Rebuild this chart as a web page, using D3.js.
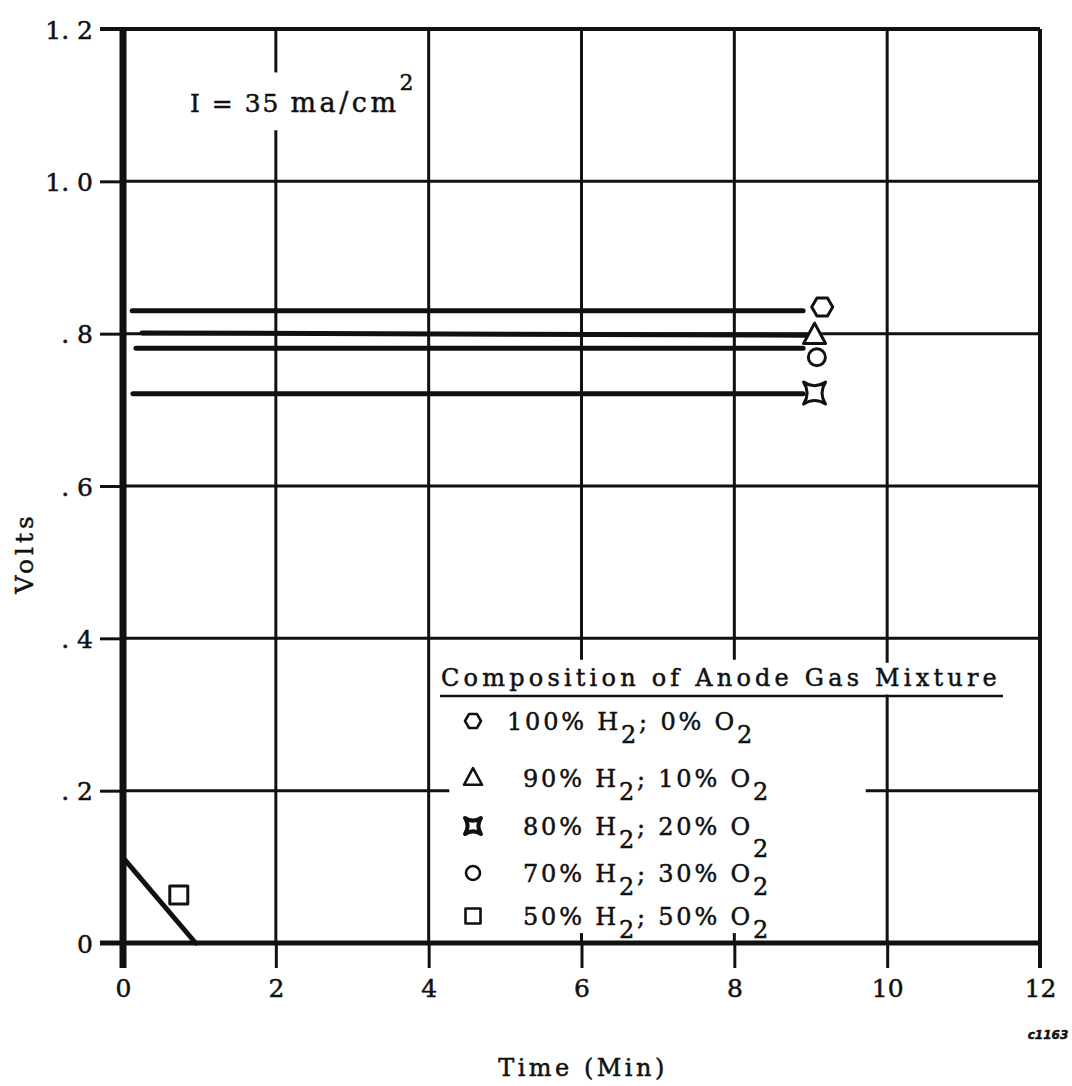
<!DOCTYPE html>
<html>
<head>
<meta charset="utf-8">
<script src="https://cdn.jsdelivr.net/npm/d3@7"></script>
<style>
  body { margin: 0; background: #fff; }
  text { font-family: "DejaVu Serif", serif; fill: #111; stroke: #111; stroke-width: 0.5px; }
</style>
</head>
<body>
<div id="chart"></div>
<script>
// Donnees
const xTicks = [0, 2, 4, 6, 8, 10, 12];
const xTickLabels = ["0", "2", "4", "6", "8", "10", "12"];
const yTicks = [0, 0.2, 0.4, 0.6, 0.8, 1.0, 1.2];
const yTickLabels = ["0", ". 2", ". 4", ". 6", ". 8", "1. 0", "1. 2"];

const h2Pct = ["100%", "90%", "80%", "70%", "50%"];
const o2Pct = ["0%", "10%", "20%", "30%", "50%"];
const symbols = ["hexagon", "triangle", "star", "circle", "square"];

const lineStartTime = [0.12, 0.25, 0.13, 0.17, 0];
const lineEndTime = [8.9, 8.95, 8.9, 8.9, 0.95];
const lineStartVolts = [0.83, 0.801, 0.721, 0.781, 0.112];
const lineEndVolts = [0.83, 0.798, 0.721, 0.781, 0];
const markerTime = [9.15, 9.05, 9.05, 9.08, 0.73];
const markerVolts = [0.835, 0.798, 0.722, 0.769, 0.063];

const width = 1072;
const height = 1086;

const x = d3.scaleLinear().domain([0, 12]).range([123, 1040]);
const y = d3.scaleLinear().domain([0, 1.2]).range([943, 29]);

const svg = d3.select("#chart").append("svg")
  .attr("width", width)
  .attr("height", height);

// formes des symboles
function symbolPath(type, s) {
  if (type === "hexagon") {
    const p = d3.range(6).map(i => [s * Math.cos(i * Math.PI / 3), s * Math.sin(i * Math.PI / 3)]);
    return "M" + p.join("L") + "Z";
  }
  if (type === "triangle") {
    return `M0,${-s * 1.1}L${s},${s * 0.75}L${-s},${s * 0.75}Z`;
  }
  if (type === "star") {
    const c = s * 0.35;
    return `M${-s},${-s}Q0,${-c} ${s},${-s}Q${c},0 ${s},${s}Q0,${c} ${-s},${s}Q${-c},0 ${-s},${-s}Z`;
  }
  if (type === "square") {
    return `M${-s},${-s}H${s}V${s}H${-s}Z`;
  }
  return d3.arc()({ innerRadius: 0, outerRadius: s, startAngle: 0, endAngle: 2 * Math.PI });
}

// grille avec les trous laisses pour le texte
const gapsX = { 2: [[1.067, 1.143]], 6: [[0.013, 0.372]], 8: [[0.013, 0.372]], 10: [[0.326, 0.368]] };
const gapsY = { 0.2: [[4.27, 9.72]] };

function pieces(lo, hi, gaps) {
  const out = [];
  let start = lo;
  (gaps || []).forEach(g => { out.push([start, g[0]]); start = g[1]; });
  out.push([start, hi]);
  return out;
}

const grid = svg.append("g").attr("stroke", "#111").attr("stroke-width", 3);

xTicks.filter(t => t > 0 && t < 12).forEach(t => {
  pieces(0, 1.2, gapsX[t]).forEach(p => {
    grid.append("line")
      .attr("x1", x(t)).attr("x2", x(t))
      .attr("y1", y(p[0])).attr("y2", y(p[1]));
  });
});

yTicks.filter(v => v > 0 && v < 1.2).forEach(v => {
  pieces(0, 12, gapsY[v]).forEach(p => {
    grid.append("line")
      .attr("x1", x(p[0])).attr("x2", x(p[1]))
      .attr("y1", y(v)).attr("y2", y(v));
  });
});

// axes
const xAxis = d3.axisBottom(x)
  .tickValues(xTicks)
  .tickFormat((d, i) => xTickLabels[i])
  .tickSize(25)
  .tickPadding(11);

const yAxis = d3.axisLeft(y)
  .tickValues(yTicks)
  .tickFormat((d, i) => yTickLabels[i])
  .tickSize(23)
  .tickPadding(7);

const gx = svg.append("g").attr("transform", `translate(0,${y(0)})`).call(xAxis);
const gy = svg.append("g").attr("transform", `translate(${x(0)},0)`).call(yAxis);

[gx, gy].forEach(g => {
  g.select(".domain").remove();
  g.selectAll(".tick line").attr("stroke", "#111").attr("stroke-width", 3);
  g.selectAll(".tick text")
    .attr("fill", "#111")
    .style("font-family", "'DejaVu Serif', serif")
    .style("font-size", "25px");
});
gy.selectAll(".tick text").attr("dy", "0.36em");

// cadre : haut et droite fins, axes du zero epais
svg.append("line")
  .attr("x1", x(0) - 23).attr("x2", x(12))
  .attr("y1", y(1.2)).attr("y2", y(1.2))
  .attr("stroke", "#111").attr("stroke-width", 4);
svg.append("line")
  .attr("x1", x(12)).attr("x2", x(12))
  .attr("y1", y(1.2)).attr("y2", y(0) + 25)
  .attr("stroke", "#111").attr("stroke-width", 4);
svg.append("line")
  .attr("x1", x(0) - 23).attr("x2", x(12))
  .attr("y1", y(0)).attr("y2", y(0))
  .attr("stroke", "#111").attr("stroke-width", 5);
svg.append("line")
  .attr("x1", x(0)).attr("x2", x(0))
  .attr("y1", y(1.2) - 2).attr("y2", y(0) + 25)
  .attr("stroke", "#111").attr("stroke-width", 7);

// courbes
const line = d3.line().x(d => x(d[0])).y(d => y(d[1]));
symbols.forEach((s, i) => {
  svg.append("path")
    .attr("d", line([[lineStartTime[i], lineStartVolts[i]], [lineEndTime[i], lineEndVolts[i]]]))
    .attr("fill", "none")
    .attr("stroke", "#111")
    .attr("stroke-width", 5)
    .attr("stroke-linecap", "round");
});

const markerSize = { hexagon: 10.5, triangle: 11, star: 11, circle: 8.5, square: 9 };
symbols.forEach((s, i) => {
  svg.append("path")
    .attr("transform", `translate(${x(markerTime[i])},${y(markerVolts[i])})`)
    .attr("d", symbolPath(s, markerSize[s]))
    .attr("fill", "#fff")
    .attr("stroke", "#111")
    .attr("stroke-width", 3)
    .attr("stroke-linejoin", "round");
});

// annotation du courant
const ann = svg.append("text")
  .attr("x", 190).attr("y", 112)
  .style("font-size", "25px")
  .style("letter-spacing", "2px");
ann.append("tspan").text("I = 35 ");
ann.append("tspan").style("font-size", "27px").style("letter-spacing", "3.5px").text("ma/cm");
ann.append("tspan").attr("dy", -22).style("font-size", "22px").text("2");

// legende
const legend = svg.append("g");
legend.append("text")
  .attr("x", 441).attr("y", 686)
  .style("font-size", "24px")
  .style("letter-spacing", "4.2px")
  .text("Composition of Anode Gas Mixture");
legend.append("line")
  .attr("x1", 440).attr("x2", 1003)
  .attr("y1", 696).attr("y2", 696)
  .attr("stroke", "#111").attr("stroke-width", 2.5);

const rowY = [730, 787, 835, 882, 925];
const legendSize = { hexagon: 8, triangle: 9, star: 8, circle: 7, square: 7.5 };
symbols.forEach((s, i) => {
  legend.append("path")
    .attr("transform", `translate(473,${rowY[i] - 9})`)
    .attr("d", symbolPath(s, legendSize[s]))
    .attr("fill", "#fff")
    .attr("stroke", "#111")
    .attr("stroke-width", s === "star" ? 4 : 2.6)
    .attr("stroke-linejoin", "round");

  const t = legend.append("text")
    .attr("x", i === 0 ? 507 : 523)
    .attr("y", rowY[i])
    .style("font-size", "24px")
    .style("letter-spacing", "2.8px");
  const drop = i === 2 ? 22 : 13;
  t.append("tspan").text(h2Pct[i] + " H");
  t.append("tspan").attr("dy", 13).text("2");
  t.append("tspan").attr("dy", -13).text("; " + o2Pct[i] + " O");
  t.append("tspan").attr("dy", drop).text("2");
});

// titres des axes
svg.append("text")
  .attr("x", 583).attr("y", 1076)
  .attr("text-anchor", "middle")
  .style("font-size", "24px")
  .style("letter-spacing", "3.5px")
  .text("Time (Min)");

svg.append("text")
  .attr("transform", "translate(33,553) rotate(-90)")
  .attr("text-anchor", "middle")
  .style("font-size", "25px")
  .style("letter-spacing", "4px")
  .text("Volts");

svg.append("text")
  .attr("x", 1048).attr("y", 1039)
  .attr("text-anchor", "middle")
  .style("font-family", "'DejaVu Sans', sans-serif")
  .style("font-size", "12px")
  .style("font-weight", "bold")
  .style("font-style", "italic")
  .text("c1163");
</script>
</body>
</html>
